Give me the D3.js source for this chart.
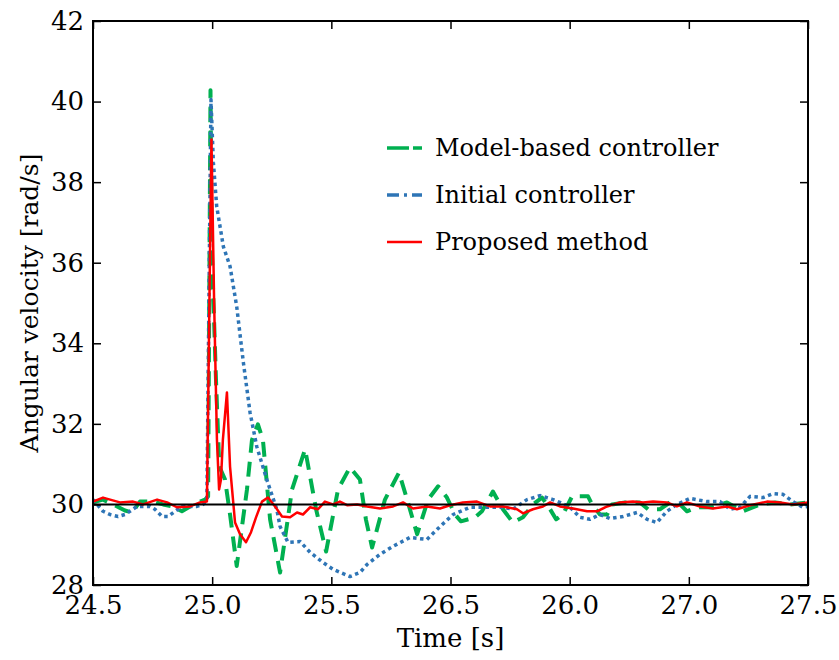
<!DOCTYPE html>
<html>
<head>
<meta charset="utf-8">
<script src="https://cdn.jsdelivr.net/npm/d3@7"></script>
<style>
  body { margin: 0; background: #fff; }
  svg { display: block; }
  text { font-family: "DejaVu Serif", serif; fill: #000; }
</style>
</head>
<body>
<svg id="chart" width="839" height="660"></svg>
<script>
// tick labels as printed on the original figure
const xTickValues = [24.5, 25.0, 25.5, 26.0, 26.5, 27.0, 27.5];
const xTickLabels = ["24.5", "25.0", "25.5", "26.5", "26.0", "27.0", "27.5"];
const yTickValues = [28, 30, 32, 34, 36, 38, 40, 42];
const reference = 30;

// Model-based controller (green dashed)
const modelT = [24.5, 24.542, 24.584, 24.634, 24.664, 24.697, 24.752, 24.794, 24.831, 24.873, 24.907, 24.949, 24.97, 24.983,
  24.993, 24.998, 25.016, 25.030, 25.054, 25.075, 25.103, 25.146, 25.167, 25.192, 25.213, 25.243, 25.285, 25.335, 25.390,
  25.436, 25.478, 25.528, 25.578, 25.620, 25.645, 25.671, 25.725, 25.784, 25.818, 25.860, 25.906, 25.948, 25.985, 26.019,
  26.044, 26.103, 26.132, 26.178, 26.220, 26.262, 26.304, 26.346, 26.384, 26.418, 26.443, 26.472, 26.510, 26.577, 26.594,
  26.627, 26.657, 26.678, 26.732, 26.795, 26.829, 26.879, 26.921, 26.963, 26.992, 27.034, 27.101, 27.160, 27.227, 27.299,
  27.362, 27.425, 27.5];
const modelV = [30.05, 30.12, 30.0, 29.85, 29.80, 30.07, 30.07, 30.0, 29.95, 29.83, 29.95, 30.07, 30.12, 30.2,
  40.28, 36.4, 33.1, 30.94, 30.62, 29.75, 28.47, 30.37, 31.6, 31.99, 31.6, 29.63, 28.31, 30.37, 31.37,
  29.88, 28.83, 30.37, 30.92, 30.62, 29.63, 28.93, 30.12, 30.79, 30.12, 29.26, 30.12, 30.45, 30.17, 29.75,
  29.58, 29.68, 29.83, 30.32, 29.88, 29.55, 29.68, 30.0, 30.17, 29.88, 29.63, 29.75, 30.2, 30.2, 30.0,
  29.75, 29.75, 30.0, 30.05, 30.05, 29.88, 29.88, 30.05, 30.0, 29.83, 29.93, 29.93, 30.05, 29.83, 30.0,
  30.05, 30.0, 30.05];

// Initial controller (blue dotted)
const initialT = [24.5, 24.542, 24.571, 24.605, 24.634, 24.655, 24.685, 24.739, 24.760, 24.790, 24.815, 24.844, 24.873,
  24.936, 24.962, 24.978, 24.995, 25.005, 25.019, 25.047, 25.075, 25.103, 25.131, 25.159, 25.187, 25.229, 25.271,
  25.285, 25.318, 25.369, 25.411, 25.465, 25.507, 25.578, 25.620, 25.650, 25.704, 25.759, 25.830, 25.901, 25.956,
  26.011, 26.082, 26.153, 26.220, 26.262, 26.321, 26.376, 26.430, 26.459, 26.501, 26.543, 26.585, 26.627, 26.669,
  26.724, 26.783, 26.825, 26.866, 26.908, 26.950, 27.005, 27.076, 27.131, 27.173, 27.215, 27.257, 27.311, 27.353,
  27.395, 27.437, 27.479, 27.5];
const initialV = [30.12, 29.83, 29.75, 29.70, 29.75, 29.83, 29.95, 29.95, 29.88, 29.70, 29.70, 29.83, 29.95,
  29.95, 30.0, 30.12, 40.05, 38.49, 37.40, 36.40, 35.91, 34.91, 33.52, 32.28, 31.44, 30.62, 29.88,
  29.45, 29.06, 29.08, 28.81, 28.56, 28.39, 28.21, 28.31, 28.51, 28.76, 28.96, 29.18, 29.13, 29.45,
  29.75, 29.93, 29.93, 29.93, 29.88, 30.12, 30.22, 30.12, 30.05, 29.93, 29.68, 29.63, 29.75, 29.65,
  29.70, 29.80, 29.63, 29.55, 29.83, 30.0, 30.15, 30.07, 30.07, 29.88, 29.93, 30.2, 30.17, 30.27,
  30.25, 30.07, 29.93, 29.95];

// Proposed method (red solid)
const proposedT = [24.5, 24.542, 24.613, 24.668, 24.710, 24.769, 24.811, 24.852, 24.907, 24.949, 24.978, 24.997, 25.008,
  25.020, 25.029, 25.037, 25.045, 25.062, 25.075, 25.096, 25.117, 25.142, 25.163, 25.184, 25.209, 25.234, 25.264,
  25.293, 25.327, 25.356, 25.381, 25.411, 25.444, 25.473, 25.507, 25.536, 25.566, 25.608, 25.650, 25.704, 25.759,
  25.801, 25.843, 25.901, 25.956, 25.998, 26.052, 26.111, 26.166, 26.220, 26.279, 26.304, 26.346, 26.388, 26.418,
  26.459, 26.514, 26.573, 26.615, 26.657, 26.711, 26.766, 26.808, 26.850, 26.908, 26.950, 26.992, 27.047, 27.101,
  27.160, 27.202, 27.257, 27.328, 27.383, 27.437, 27.5];
const proposedV = [30.07, 30.17, 30.05, 30.07, 30.0, 30.12, 30.05, 29.93, 29.95, 30.05, 30.07, 39.06, 35.09,
  31.61, 30.37, 30.62, 31.61, 32.78, 30.94, 29.55, 29.26, 29.06, 29.31, 29.68, 30.07, 30.17, 29.95,
  29.70, 29.68, 29.80, 29.75, 29.93, 29.88, 30.07, 30.0, 30.07, 29.98, 30.0, 29.95, 29.90, 29.95,
  30.05, 29.90, 29.95, 29.90, 29.98, 30.05, 30.07, 29.95, 29.95, 29.88, 29.78, 29.88, 29.95, 30.05,
  29.95, 29.90, 29.83, 29.83, 29.95, 30.05, 30.07, 30.05, 30.07, 30.05, 29.95, 30.05, 29.95, 29.90,
  29.95, 29.88, 29.98, 30.07, 30.05, 30.0, 30.05];

const seriesNames = ["Model-based controller", "Initial controller", "Proposed method"];
const seriesColors = ["#00b050", "#2e75b6", "#ff0000"];

const width = 839;
const height = 660;
const margin = {top: 21, right: 31, bottom: 75, left: 93};
const serif = '"DejaVu Serif", serif';

const svg = d3.select("#chart");

const x = d3.scaleLinear()
    .domain([24.5, 27.5])
    .range([margin.left, width - margin.right]);

const y = d3.scaleLinear()
    .domain([28, 42])
    .range([height - margin.bottom, margin.top]);

const zip = (ts, vs) => ts.map((t, i) => ({t: t, v: vs[i]}));
const series = [
    {name: seriesNames[0], color: seriesColors[0], data: zip(modelT, modelV), width: 4, dash: "15,9"},
    {name: seriesNames[1], color: seriesColors[1], data: zip(initialT, initialV), width: 3.5, dash: "3.5,3.5"},
    {name: seriesNames[2], color: seriesColors[2], data: zip(proposedT, proposedV), width: 2.5, dash: null}
];

const line = d3.line()
    .x(d => x(d.t))
    .y(d => y(d.v));

svg.append("defs").append("clipPath").attr("id", "plot-clip")
    .append("rect")
    .attr("x", margin.left)
    .attr("y", margin.top)
    .attr("width", width - margin.left - margin.right)
    .attr("height", height - margin.top - margin.bottom);

const plot = svg.append("g").attr("clip-path", "url(#plot-clip)");

plot.selectAll(".series")
    .data(series)
    .join("path")
    .attr("class", "series")
    .attr("fill", "none")
    .attr("stroke", d => d.color)
    .attr("stroke-width", d => d.width)
    .attr("stroke-dasharray", d => d.dash)
    .attr("stroke-linejoin", "round")
    .attr("d", d => line(d.data));

// reference line at 30 rad/s
plot.append("line")
    .attr("x1", x(24.5))
    .attr("x2", x(27.5))
    .attr("y1", y(reference))
    .attr("y2", y(reference))
    .attr("stroke", "#000")
    .attr("stroke-width", 2);

// axes, ticks pointing inward on all four sides
const fontSize = 26;

const xAxis = g => g
    .attr("transform", `translate(0,${height - margin.bottom})`)
    .call(d3.axisBottom(x)
        .tickValues(xTickValues)
        .tickFormat((d, i) => xTickLabels[i])
        .tickSizeInner(-8)
        .tickSizeOuter(0)
        .tickPadding(11))
    .call(g => g.select(".domain").remove());

const yAxis = g => g
    .attr("transform", `translate(${margin.left},0)`)
    .call(d3.axisLeft(y)
        .tickValues(yTickValues)
        .tickFormat(d3.format("d"))
        .tickSizeInner(-8)
        .tickSizeOuter(0)
        .tickPadding(9))
    .call(g => g.select(".domain").remove());

const xAxisTop = g => g
    .attr("transform", `translate(0,${margin.top})`)
    .call(d3.axisTop(x).tickValues(xTickValues).tickFormat("").tickSizeInner(-8).tickSizeOuter(0))
    .call(g => g.select(".domain").remove());

const yAxisRight = g => g
    .attr("transform", `translate(${width - margin.right},0)`)
    .call(d3.axisRight(y).tickValues(yTickValues).tickFormat("").tickSizeInner(-8).tickSizeOuter(0))
    .call(g => g.select(".domain").remove());

svg.append("g").call(xAxis);
svg.append("g").call(yAxis);
svg.append("g").call(xAxisTop);
svg.append("g").call(yAxisRight);

svg.selectAll(".tick line").attr("stroke", "#000").attr("stroke-width", 1.5);
svg.selectAll(".tick text")
    .style("font-family", serif)
    .style("font-size", fontSize + "px")
    .attr("fill", "#000");

// frame
svg.append("rect")
    .attr("x", margin.left)
    .attr("y", margin.top)
    .attr("width", width - margin.left - margin.right)
    .attr("height", height - margin.top - margin.bottom)
    .attr("fill", "none")
    .attr("stroke", "#000")
    .attr("stroke-width", 2);

// axis titles
svg.append("text")
    .attr("x", (margin.left + width - margin.right) / 2)
    .attr("y", 647)
    .attr("text-anchor", "middle")
    .style("font-family", serif)
    .style("font-size", fontSize + "px")
    .text("Time [s]");

svg.append("text")
    .attr("transform", `translate(38,${(margin.top + height - margin.bottom) / 2}) rotate(-90)`)
    .attr("text-anchor", "middle")
    .style("font-family", serif)
    .style("font-size", "25px")
    .text("Angular velocity [rad/s]");

// legend
const legendDash = ["22,4,9", "12,5,3,5,12", null];
const legend = svg.append("g").attr("transform", "translate(387,148)");
const items = legend.selectAll(".item")
    .data(series)
    .join("g")
    .attr("class", "item")
    .attr("transform", (d, i) => `translate(0,${i * 47})`);

items.append("line")
    .attr("x1", 0)
    .attr("x2", 35)
    .attr("y1", 0)
    .attr("y2", 0)
    .attr("stroke", d => d.color)
    .attr("stroke-width", (d, i) => i === 2 ? 2.5 : 3.5)
    .attr("stroke-dasharray", (d, i) => legendDash[i]);

items.append("text")
    .attr("x", 48)
    .attr("y", 0)
    .attr("dy", "0.35em")
    .style("font-family", serif)
    .style("font-size", "24px")
    .text(d => d.name);
</script>
</body>
</html>
